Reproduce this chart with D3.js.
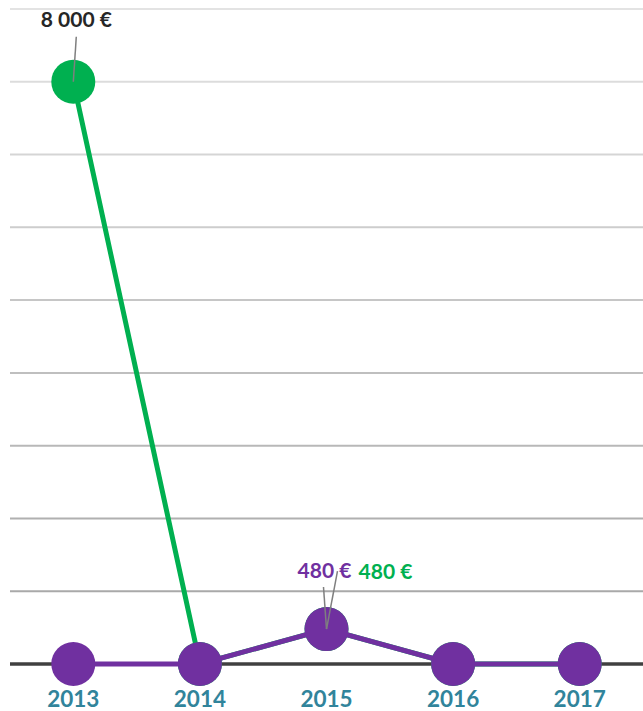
<!DOCTYPE html>
<html>
<head>
<meta charset="utf-8">
<script src="https://cdn.jsdelivr.net/npm/d3@7/dist/d3.min.js"></script>
<style>
  body { margin: 0; background: #fff; }
  text { font-family: Lato, "Noto Sans", sans-serif; font-weight: 700; }
</style>
</head>
<body>
<svg id="chart" width="643" height="711"></svg>
<script>
const years = ['2013', '2014', '2015', '2016', '2017'];
const greenValues = [8000, 0, 480, 0, 0];
const purpleValues = [0, 0, 480, 0, 0];
const gridTicks = [1000, 2000, 3000, 4000, 5000, 6000, 7000, 8000, 9000];

const svg = d3.select('#chart');
const width = 643;
const baseY = 664;
const topY = 9;
const radius = 22;

const x = d3.scaleBand().domain(years).range([10, width]);
const cx = d => x(d) + x.bandwidth() / 2;
const y = d3.scaleLinear().domain([0, 9000]).range([baseY, topY]);

// gridlines get lighter towards the top
const gridColor = d3.scaleLinear().domain([1000, 9000]).range(['#a9a9a9', '#e3e3e3']);
svg.append('g').selectAll('line')
  .data(gridTicks)
  .join('line')
  .attr('x1', 10).attr('x2', width)
  .attr('y1', d => y(d)).attr('y2', d => y(d))
  .attr('stroke', d => gridColor(d))
  .attr('stroke-width', 2);

// baseline
svg.append('line')
  .attr('x1', 10).attr('x2', width)
  .attr('y1', y(0)).attr('y2', y(0))
  .attr('stroke', '#404040')
  .attr('stroke-width', 3.5);

const line = d3.line().x(d => cx(d.year)).y(d => y(d.value));

function drawSeries(values, color) {
  const pts = years.map((yr, i) => ({ year: yr, value: values[i] }));
  svg.append('path')
    .datum(pts)
    .attr('d', line)
    .attr('fill', 'none')
    .attr('stroke', color)
    .attr('stroke-width', 5);
  svg.append('g').selectAll('circle')
    .data(pts)
    .join('circle')
    .attr('cx', d => cx(d.year))
    .attr('cy', d => y(d.value))
    .attr('r', radius)
    .attr('fill', color);
  return pts;
}

const green = drawSeries(greenValues, '#00b050');
const purple = drawSeries(purpleValues, '#7030a0');

// x axis labels
svg.append('g').selectAll('text')
  .data(years)
  .join('text')
  .attr('x', d => cx(d))
  .attr('y', 707)
  .attr('text-anchor', 'middle')
  .attr('font-size', 22.5)
  .attr('fill', '#31849b')
  .text(d => d);

const fmt = v => d3.format(',')(v).replace(/,/g, ' ') + ' €';
const leader = '#7f7f7f';

// 8 000 € label (green, 2013)
const p0 = green[0];
svg.append('line')
  .attr('x1', cx(p0.year) + 3).attr('y1', y(p0.value) - 45)
  .attr('x2', cx(p0.year)).attr('y2', y(p0.value))
  .attr('stroke', leader).attr('stroke-width', 1.5);
svg.append('text')
  .attr('x', cx(p0.year) + 3).attr('y', y(p0.value) - 55)
  .attr('text-anchor', 'middle')
  .attr('font-size', 21)
  .attr('fill', '#262626')
  .text(fmt(p0.value));

// 480 € labels at 2015
const pp = purple[2];
const pg = green[2];
svg.append('line')
  .attr('x1', cx(pp.year) - 3).attr('y1', y(pp.value) - 42)
  .attr('x2', cx(pp.year)).attr('y2', y(pp.value))
  .attr('stroke', leader).attr('stroke-width', 1.5);
svg.append('line')
  .attr('x1', cx(pg.year) + 11).attr('y1', y(pg.value) - 58)
  .attr('x2', cx(pg.year)).attr('y2', y(pg.value))
  .attr('stroke', leader).attr('stroke-width', 1.5);
svg.append('text')
  .attr('x', cx(pp.year) - 2).attr('y', y(pp.value) - 51)
  .attr('text-anchor', 'middle')
  .attr('font-size', 21)
  .attr('fill', '#7030a0')
  .text(fmt(pp.value));
svg.append('text')
  .attr('x', cx(pg.year) + 59).attr('y', y(pg.value) - 50)
  .attr('text-anchor', 'middle')
  .attr('font-size', 21)
  .attr('fill', '#00b050')
  .text(fmt(pg.value));
</script>
</body>
</html>
